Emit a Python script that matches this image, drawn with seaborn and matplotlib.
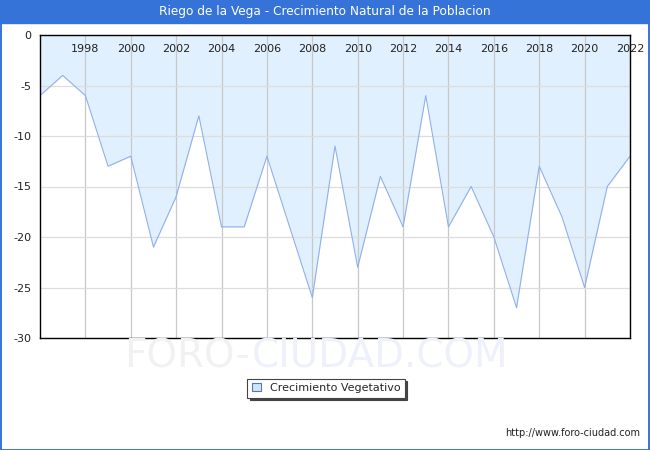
import matplotlib.patches as mpatches
import numpy as np
import pandas as pd
import seaborn as sns
from matplotlib import pyplot as plt

years = list(range(1996, 2023))
crecimiento = [-6, -4, -6, -13, -12, -21, -16, -8, -19, -19, -12, -19, -26, -11,
               -23, -14, -19, -6, -19, -15, -20, -27, -13, -18, -25, -15, -12]
tick_years = list(range(1998, 2023, 2))
y_ticks = [0, -5, -10, -15, -20, -25, -30]

TITLE = "Riego de la Vega - Crecimiento Natural de la Poblacion"
LINE_COLOR = "#8fb0ea"
FILL_COLOR = "#e1f0fe"
BLUE = "#3673d8"

df = pd.DataFrame({"year": years, "value": crecimiento})

sns.set_style("white")
plt.rcParams["font.family"] = ["DejaVu Sans"]

fig = plt.figure(figsize=(6.5, 4.5), dpi=100)
ax = fig.add_axes([40 / 650, 1 - 338 / 450, 590 / 650, 303 / 450])

ax.fill_between(df["year"], df["value"], 0, color=FILL_COLOR, linewidth=0, zorder=1)
sns.lineplot(data=df, x="year", y="value", ax=ax, color=LINE_COLOR, linewidth=0.8, zorder=3)

ax.set_xlim(1996, 2022)
ax.set_ylim(-30, 0)
ax.set_xticks(tick_years)
ax.set_xticklabels([str(y) for y in tick_years])
ax.set_yticks(y_ticks)
ax.set_yticklabels([str(v) for v in y_ticks])
ax.tick_params(axis="x", top=True, labeltop=True, bottom=False, labelbottom=False,
               length=0, pad=-14, labelsize=8, colors="#222222")
ax.tick_params(axis="y", length=0, pad=6, labelsize=8, colors="#222222")
ax.set_xlabel("")
ax.set_ylabel("")
ax.grid(axis="x", color="#c8c8c8", linewidth=0.9, zorder=2)
ax.grid(axis="y", color="#dddddd", linewidth=0.9, zorder=2)
ax.set_axisbelow(False)
for s in ax.spines.values():
    s.set_visible(True)
    s.set_color("black")
    s.set_linewidth(1.0)
    s.set_zorder(6)

# title bar and border
fig.patches.append(mpatches.Rectangle((0, 1 - 23 / 450), 1, 23 / 450, transform=fig.transFigure,
                                      color=BLUE, zorder=0))
fig.patches.append(mpatches.Rectangle((0.5 / 650, 0.5 / 450), 648.5 / 650, 448.5 / 450,
                                      transform=fig.transFigure, fill=False,
                                      edgecolor=BLUE, linewidth=1.4, zorder=5))
fig.text(0.5, 1 - 11.5 / 450, TITLE, ha="center", va="center", color="white", fontsize=8.7)

# watermark
fig.text(250 / 650, 1 - 368 / 450, "FORO-", ha="right", va="baseline",
         color="#f1f1f1", fontsize=28, zorder=0)
fig.text(252 / 650, 1 - 368 / 450, "CIUDAD.COM", ha="left", va="baseline",
         color="#eef0fb", fontsize=28, zorder=0)

# legend
handle = mpatches.Patch(facecolor="#cfe3fb", edgecolor="#5577aa", linewidth=0.8,
                        label="Crecimiento Vegetativo")
leg = fig.legend(handles=[handle], loc="center", bbox_to_anchor=(326 / 650, 1 - 388 / 450),
                 fancybox=False, shadow={"color": "#444444", "alpha": 1}, fontsize=8,
                 edgecolor="#444444", framealpha=1, handlelength=0.8, handleheight=0.8,
                 borderpad=0.4)
leg.get_frame().set_linewidth(0.8)

fig.text(640 / 650, 1 - 433 / 450, "http://www.foro-ciudad.com", ha="right", va="center",
         fontsize=7, color="#222222")

fig.savefig("out.png", dpi=100)
